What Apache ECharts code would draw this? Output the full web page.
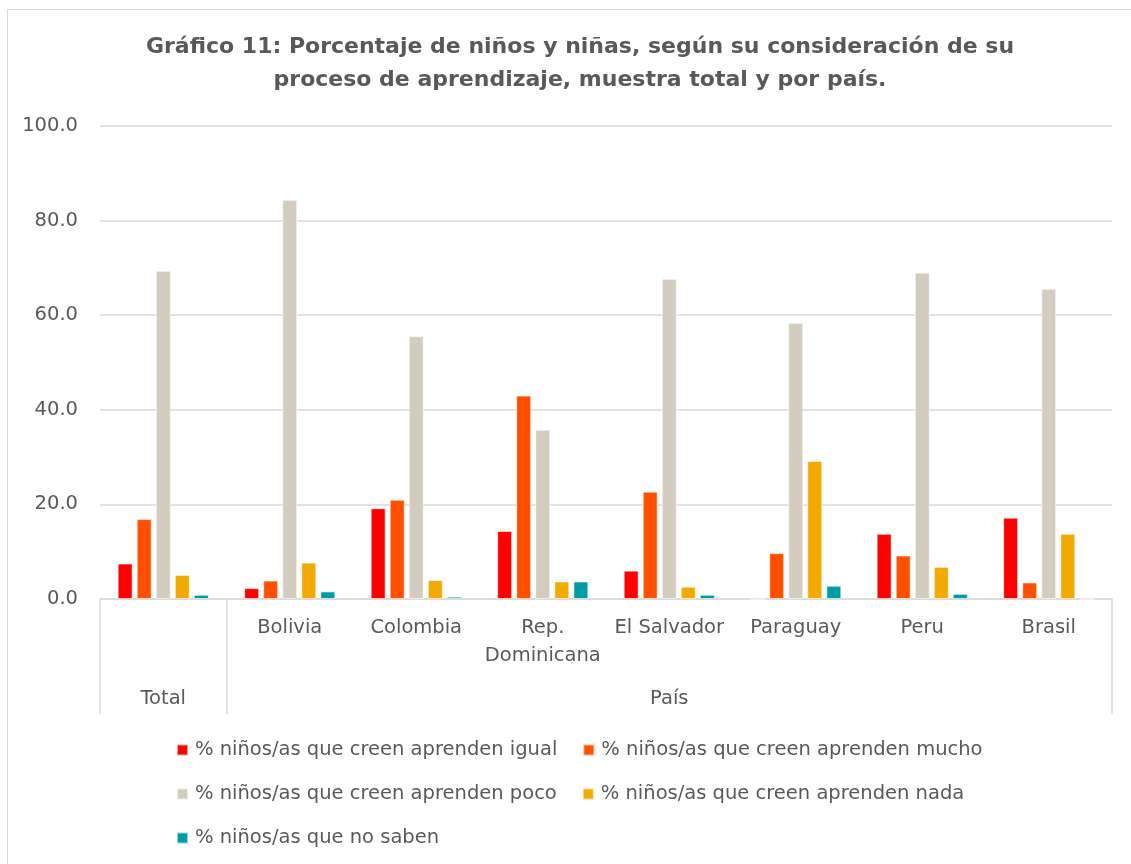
<!DOCTYPE html>
<html>
<head>
<meta charset="utf-8">
<script src="https://cdn.jsdelivr.net/npm/echarts@6/dist/echarts.min.js"></script>
<style>
  html, body { margin: 0; padding: 0; background: #fff; }
  #frame { position: absolute; left: 7px; top: 9px; width: 1140px; height: 870px; border: 1px solid #d9d9d9; }
  #chart { position: absolute; left: 0; top: 0; width: 1131px; height: 864px; }
</style>
</head>
<body>
<div id="frame"></div>
<div id="chart"></div>
<script>
// categorias (nivel 1) y grupos (nivel 2)
var categories = ['', 'Bolivia', 'Colombia', 'Rep.\nDominicana', 'El Salvador', 'Paraguay', 'Peru', 'Brasil']
var groups = ['Total', 'País']
var groupPositions = [0.5, 4.5]   // centro de cada grupo, en unidades de categoria
var groupBounds = [0, 1, 8]

var seriesNames = [
  '% niños/as que creen aprenden igual',
  '% niños/as que creen aprenden mucho',
  '% niños/as que creen aprenden poco',
  '% niños/as que creen aprenden nada',
  '% niños/as que no saben'
]
var igual    = [7.5, 2.3, 19.2, 14.4, 6.0, 0, 13.8, 17.2]
var mucho    = [16.9, 3.9, 21.0, 43.0, 22.7, 9.7, 9.2, 3.5]
var poco     = [69.4, 84.4, 55.6, 35.8, 67.7, 58.4, 69.0, 65.6]
var nada     = [5.1, 7.7, 4.0, 3.7, 2.6, 29.2, 6.8, 13.8]
var noSaben  = [0.9, 1.6, 0.5, 3.7, 0.9, 2.8, 1.1, 0]
var yTicks = { min: 0, max: 100, interval: 20 }

var colors = ['#FF0000', '#FF5000', '#D3CCBF', '#F2A900', '#009CA6']
var font = 'DejaVu Sans'
var textColor = '#595959'
var lineColor = '#d9d9d9'
var fs = 19.5

var chart = echarts.init(document.getElementById('chart'))

var seriesData = [igual, mucho, poco, nada, noSaben]
var series = seriesData.map(function (d, i) {
  return {
    name: seriesNames[i],
    type: 'bar',
    xAxisIndex: 0,
    data: d,
    barWidth: 15,
    barGap: '27%',
    itemStyle: { color: colors[i], borderColor: 'rgba(255,255,255,0.6)', borderWidth: 1 }
  }
})

var option = {
  animation: false,
  color: colors,
  title: {
    text: 'Gráfico 11: Porcentaje de niños y niñas, según su consideración de su\nproceso de aprendizaje, muestra total y por país.',
    left: 575,
    top: 26,
    textAlign: 'center',
    textStyle: { fontFamily: font, fontWeight: 'bold', fontSize: 22, color: textColor, lineHeight: 33 }
  },
  legend: {
    left: 176,
    top: 740,
    width: 850,
    padding: 0,
    itemWidth: 11,
    itemHeight: 11,
    itemGap: 24,
    icon: 'rect',
    textStyle: { fontFamily: font, fontSize: fs, lineHeight: 20, color: textColor, padding: [0, 1, 0, 2] }
  },
  grid: { left: 100, right: 19, top: 126, bottom: 265, containLabel: false },
  xAxis: [
    {
      type: 'category',
      data: categories,
      axisLine: { lineStyle: { color: lineColor, width: 1.5 } },
      axisTick: { show: false },
      axisLabel: { fontFamily: font, fontSize: fs, color: textColor, lineHeight: 28, margin: 15, interval: 0 }
    },
    {
      type: 'value',
      position: 'bottom',
      min: 0,
      max: 8,
      axisLine: { show: false },
      splitLine: { show: false },
      axisTick: { show: true, customValues: groupBounds, length: 115, lineStyle: { color: lineColor, width: 1.5 } },
      axisLabel: {
        customValues: groupPositions,
        margin: 90,
        fontFamily: font, fontSize: fs, color: textColor,
        formatter: function (v) { return groups[groupPositions.indexOf(v)] }
      }
    }
  ],
  yAxis: {
    type: 'value',
    min: yTicks.min,
    max: yTicks.max,
    interval: yTicks.interval,
    axisLine: { show: false },
    axisTick: { show: false },
    splitLine: { lineStyle: { color: lineColor, width: 1.5 } },
    axisLabel: {
      fontFamily: font, fontSize: fs, color: textColor, margin: 22,
      formatter: function (v) { return v.toFixed(1) }
    }
  },
  series: series
}

chart.setOption(option)
</script>
</body>
</html>
